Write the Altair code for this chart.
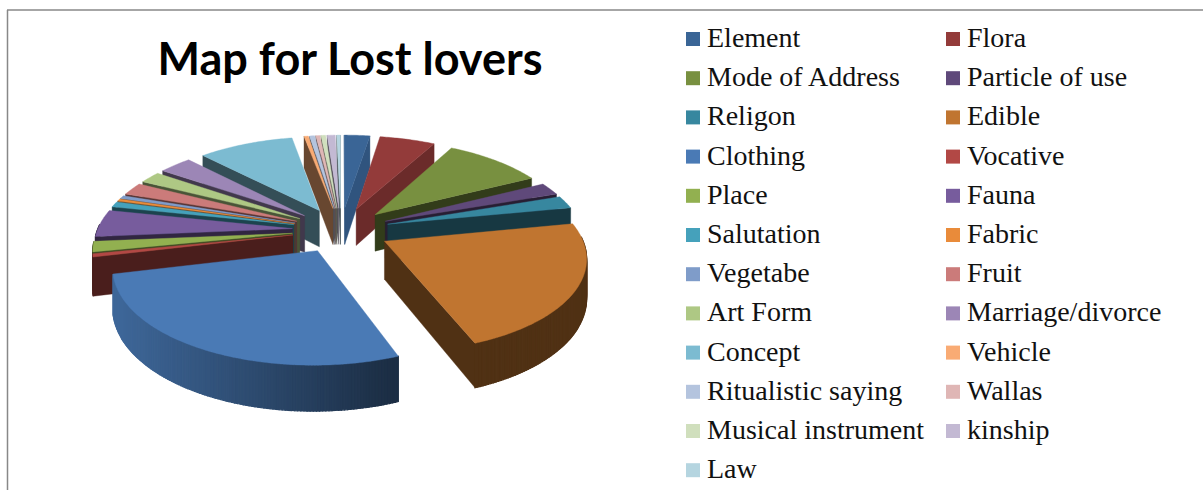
import math
import altair as alt

# Share of each category, in percent
categories = ["Element", "Flora", "Mode of Address", "Particle of use", "Religon", "Edible",
              "Clothing", "Vocative", "Place", "Fauna", "Salutation", "Fabric", "Vegetabe",
              "Fruit", "Art Form", "Marriage/divorce", "Concept", "Vehicle",
              "Ritualistic saying", "Wallas", "Musical instrument", "kinship", "Law"]
shares = [2.5, 5.42, 9.58, 2.22, 2.22, 22.2, 27.1, 0.55, 1.8, 4.72, 0.97, 0.42, 0.55,
          2.22, 2.08, 3.2, 9.3, 0.42, 0.5, 0.4, 0.45, 0.78, 0.37]
colors = ["#3A6596", "#933B3A", "#789040", "#5F497A", "#37879F", "#C07530", "#4A7AB5", "#B24845",
          "#92B050", "#775C9D", "#45A1BB", "#E98B3A", "#7F9CC9", "#CB7B7A", "#AEC884", "#9C86B6",
          "#7CBBD1", "#F9AB74", "#B4C4DE", "#DFB6B5", "#D0DFBD", "#C3B9D3", "#B5D5E0"]
cut_shade = {"Element": 0.84, "Flora": 0.73}

# Pie geometry in units of the pie radius
EXPLODE = 0.25
TILT = 0.463
PERSPECTIVE = 0.151
DEPTH = 0.192


def project(x, z):
    w = 1 + PERSPECTIVE * z
    return x / w, TILT * z / w


def darken(hex_color, k):
    r, g, b = (int(hex_color[i:i + 2], 16) for i in (1, 3, 5))
    return "#%02x%02x%02x" % (int(r * k), int(g * k), int(b * k))


def rim_shade(name, x):
    # Only the long front wall shows the light falling off from left to right
    if name != "Clothing":
        return 0.42
    f = (x + 1.15) / 1.4
    f = min(max(f, 0.0), 1.0)
    return 0.85 - 0.47 * f


def feature(points, fill, line=0.4):
    ring = [list(p) for p in points] + [list(points[0])]
    return {"type": "Feature", "properties": {"fill": fill, "line": line},
            "geometry": {"type": "Polygon", "coordinates": [ring]}}


def lowered(p):
    # The wall height grows towards the viewer along with the perspective
    z = p[1] / (TILT - PERSPECTIVE * p[1])
    return (p[0], p[1] - DEPTH / (1 + PERSPECTIVE * z))


total = sum(shares)
slices = []
start = 0.0
for name, share, color in zip(categories, shares, colors):
    end = start + share / total * 2 * math.pi
    slices.append((name, color, start, end))
    start = end


def draw_slice(name, color, t1, t2):
    mid = (t1 + t2) / 2
    ox, oz = EXPLODE * math.sin(mid), EXPLODE * math.cos(mid)
    rim = lambda t: project(ox + math.sin(t), oz + math.cos(t))
    apex = project(ox, oz)
    top_mid = rim(mid)
    out = []
    k = cut_shade.get(name, 0.42)
    for t in (t1, t2):
        p = rim(t)
        cross = (p[0] - apex[0]) * (top_mid[1] - apex[1]) - (p[1] - apex[1]) * (top_mid[0] - apex[0])
        if cross * (p[0] - apex[0]) > 0:
            out.append(feature([apex, p, lowered(p), lowered(apex)], darken(color, k)))
    steps = max(1, int((t2 - t1) / math.radians(0.75)))
    ts = [t1 + (t2 - t1) * i / steps for i in range(steps + 1)]
    for a, b in zip(ts, ts[1:]):
        if math.cos((a + b) / 2) < 0.05:
            pa, pb = rim(a), rim(b)
            out.append(feature([pa, pb, lowered(pb), lowered(pa)],
                               darken(color, rim_shade(name, (pa[0] + pb[0]) / 2)), line=1.2))
    arc = [apex] + [rim(t) for t in ts]
    out.append(feature(arc, color))
    return out


# Far slices are painted first so that the nearer ones cover them
features = []
for s in sorted(slices, key=lambda s: -math.cos((s[2] + s[3]) / 2)):
    features.extend(draw_slice(*s))

pie = alt.Chart(alt.InlineData(values=features)).mark_geoshape().encode(
    fill=alt.Color("properties.fill:N", scale=None),
    stroke=alt.Color("properties.fill:N", scale=None),
    strokeWidth=alt.StrokeWidth("properties.line:Q", scale=None),
).project(type="identity", reflectY=True, scale=195, translate=[341, 230])

key = alt.Chart(alt.Data(values=[{"category": c} for c in categories])).mark_square(opacity=0).encode(
    color=alt.Color(
        "category:N",
        sort=categories,
        scale=alt.Scale(domain=categories, range=colors),
        legend=alt.Legend(
            title=None, orient="none", legendX=679, legendY=25, columns=2, direction="horizontal",
            symbolType="square", symbolSize=196, symbolOpacity=1, symbolStrokeWidth=0,
            labelFont="Liberation Serif", labelFontSize=28, labelColor="#111111",
            labelOffset=0, columnPadding=15, rowPadding=11.2, labelLimit=300,
        ),
    )
)

title = alt.Chart(alt.Data(values=[{"t": "Map for Lost lovers"}])).mark_text(
    font="Lato", fontWeight="bold", fontSize=45, color="#000000", align="center", baseline="middle"
).encode(x=alt.value(350), y=alt.value(61), text="t:N")

frame_top = alt.Chart(alt.Data(values=[{"a": 0}])).mark_rule(color="#888888", strokeWidth=1.5).encode(
    x=alt.value(7), x2=alt.value(1203), y=alt.value(10))
frame_left = alt.Chart(alt.Data(values=[{"a": 0}])).mark_rule(color="#888888", strokeWidth=1.5).encode(
    x=alt.value(7.5), y=alt.value(10), y2=alt.value(490))

chart = alt.layer(key, pie, title, frame_top, frame_left).resolve_scale(
    color="independent", fill="independent", stroke="independent"
).properties(
    width=1203, height=490, padding=0, autosize=alt.AutoSizeParams(type="none"),
    background="#ffffff",
).configure_view(stroke=None)

chart.save("out.html", embed_options={"renderer": "svg", "actions": False})
